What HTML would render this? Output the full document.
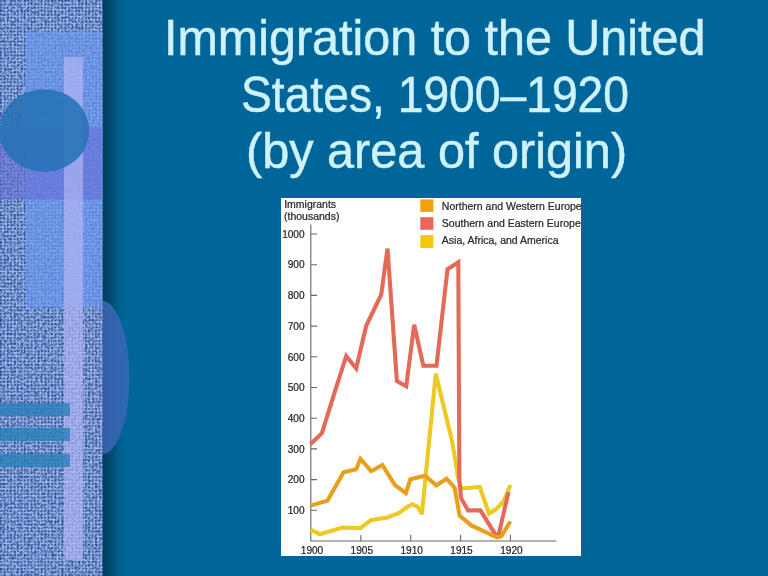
<!DOCTYPE html>
<html lang="en">
<head>
<meta charset="utf-8">
<title>Immigration to the United States, 1900–1920</title>
<style>
html,body{margin:0;padding:0;}
body{width:768px;height:576px;overflow:hidden;background:#00669a;position:relative;font-family:"Liberation Sans",sans-serif;}
#bg{position:absolute;left:0;top:0;width:768px;height:576px;display:block;}
h1{position:absolute;left:102px;top:0;width:666px;margin:0;font-weight:normal;color:#cdf2fc;-webkit-text-stroke:0.5px #cdf2fc;font-size:49.4px;line-height:56.2px;text-align:center;white-space:nowrap;}
h1 span{display:block;position:absolute;white-space:nowrap;transform-origin:0 0;}
#chart{position:absolute;left:281px;top:198px;width:300px;height:358px;background:#fff;overflow:hidden;}
#chart svg{position:absolute;left:0;top:0;}
</style>
</head>
<body>
<svg id="bg" width="768" height="576" viewBox="0 0 768 576">
  <defs>
    <linearGradient id="shadow" x1="0" x2="1" y1="0" y2="0">
      <stop offset="0" stop-color="#003d5d"/>
      <stop offset="0.3" stop-color="#00476b"/>
      <stop offset="0.75" stop-color="#005f8e"/>
      <stop offset="1" stop-color="#00669a"/>
    </linearGradient>
    <linearGradient id="ell" x1="0" x2="1" y1="0" y2="0">
      <stop offset="0" stop-color="#36589c"/>
      <stop offset="1" stop-color="#2f68b4"/>
    </linearGradient>
    <filter id="weave" x="0" y="0" width="100%" height="100%" color-interpolation-filters="sRGB">
      <feTurbulence type="fractalNoise" baseFrequency="0.42" numOctaves="2" seed="4" result="h"/>
      <feColorMatrix in="h" type="matrix" values="1 0 0 0 0  1 0 0 0 0  1 0 0 0 0  0 0 0 0 1" result="h1"/>
      <feComposite in="SourceGraphic" in2="h1" operator="arithmetic" k1="0" k2="0.26" k3="0.74" k4="-0.09" result="n"/>
      <feComponentTransfer in="n" result="c">
        <feFuncR type="table" tableValues="0.204 0.204 0.214 0.253 0.360 0.486 0.603 0.671 0.690 0.690 0.690"/>
        <feFuncG type="table" tableValues="0.298 0.298 0.308 0.346 0.451 0.576 0.690 0.757 0.776 0.776 0.776"/>
        <feFuncB type="table" tableValues="0.596 0.596 0.603 0.632 0.712 0.805 0.892 0.942 0.957 0.957 0.957"/>
      </feComponentTransfer>
      <feGaussianBlur in="c" stdDeviation="0.6"/>
    </filter>
    <pattern id="grid" x="0" y="0" width="3.4" height="3.4" patternUnits="userSpaceOnUse">
      <rect x="0" y="0" width="3.4" height="3.4" fill="#fff"/>
      <rect x="0" y="0" width="2.0" height="2.0" fill="#000"/>
    </pattern>
    <clipPath id="side"><rect x="0" y="0" width="102.6" height="576"/></clipPath>
  </defs>
  <rect x="0" y="0" width="768" height="576" fill="#00669a"/>
  <rect x="102" y="0" width="23" height="576" fill="url(#shadow)"/>
  <ellipse cx="102" cy="377.6" rx="27.4" ry="76.8" fill="url(#ell)"/>
  <g clip-path="url(#side)">
    <rect x="0" y="0" width="104" height="576" fill="url(#grid)" filter="url(#weave)"/>
    <rect x="25.5" y="31.5" width="78" height="276" fill="#6c98f0" fill-opacity="0.68"/>
    <rect x="0" y="127.5" width="104" height="72" fill="#6870d6" fill-opacity="0.62"/>
    <rect x="64" y="57" width="19" height="503" fill="#b4b8f8" fill-opacity="0.66"/>
    <ellipse cx="44.2" cy="130.6" rx="45" ry="41.4" fill="#2672b6" fill-opacity="0.88"/>
    <rect x="0" y="403" width="70" height="13" fill="#2a80ba" fill-opacity="0.8"/>
    <rect x="0" y="428" width="70" height="13" fill="#2a80ba" fill-opacity="0.8"/>
    <rect x="0" y="454" width="70" height="13" fill="#2a80ba" fill-opacity="0.8"/>
  </g>
</svg>
<h1>
<span id="l1" style="left:61.8px;top:10.4px;transform:scaleX(0.9813);">Immigration to the United</span>
<span id="l2" style="left:138.6px;top:66.8px;transform:scaleX(0.9357);">States, 1900–1920</span>
<span id="l3" style="left:144px;top:122.9px;transform:scaleX(0.9846);">(by area of origin)</span>
</h1>
<div id="chart">
<svg width="300" height="358" viewBox="281 198 300 358" font-family="Liberation Sans, sans-serif" font-size="10.5" fill="#262626" stroke="#262626" stroke-width="0.22" paint-order="stroke">
<g id="axes" stroke="#66666c" stroke-width="1.1" fill="none">
<path d="M310.8 224.5V541.0H556.5"/>
<path d="M311.0 510.3h6M311.0 479.6h6M311.0 448.9h6M311.0 418.2h6M311.0 387.5h6M311.0 356.8h6M311.0 326.1h6M311.0 295.4h6M311.0 264.7h6M311.0 234.0h6M360.9 541.0v-6M410.7 541.0v-6M460.6 541.0v-6M510.4 541.0v-6"/>
</g>
<g id="ylabels" text-anchor="end" font-size="10.1">
<text x="304.6" y="514.0">100</text>
<text x="304.6" y="483.3">200</text>
<text x="304.6" y="452.6">300</text>
<text x="304.6" y="421.9">400</text>
<text x="304.6" y="391.2">500</text>
<text x="304.6" y="360.5">600</text>
<text x="304.6" y="329.8">700</text>
<text x="304.6" y="299.1">800</text>
<text x="304.6" y="268.4">900</text>
<text x="304.6" y="237.7">1000</text>
</g>
<g id="xlabels" text-anchor="middle" font-size="10.1">
<text x="312.0" y="554.2">1900</text>
<text x="361.8" y="554.2">1905</text>
<text x="411.7" y="554.2">1910</text>
<text x="461.5" y="554.2">1915</text>
<text x="511.4" y="554.2">1920</text>
</g>
<text x="284.2" y="208">Immigrants</text>
<text x="284" y="219.5">(thousands)</text>
<g id="legend">
<rect x="420.3" y="199.4" width="13.1" height="12.5" fill="#f4a10b" stroke="none"/>
<rect x="420.3" y="217.2" width="13.1" height="12.6" fill="#ea6656" stroke="none"/>
<rect x="420.3" y="235.1" width="13.1" height="12.9" fill="#f8c70c" stroke="none"/>
<text x="441.8" y="209.9">Northern and Western Europe</text>
<text x="441.8" y="227.1">Southern and Eastern Europe</text>
<text x="441.8" y="244.3">Asia, Africa, and America</text>
</g>
<g id="series" fill="none" stroke-width="4.1" stroke-linejoin="miter" stroke-miterlimit="2.3" stroke-linecap="butt">
<path id="line-aaa" d="M310.4 529.6 L319.8 534.2 L342.7 527.5 L360.4 528.1 L370.8 520.2 L387.5 517.5 L399.0 512.9 L408.0 506.5 L412.5 504.2 L417.7 506.7 L421.9 514.0 L435.8 373.8 L451.8 440.0 L455.6 462.0 L458.0 477.5 L461.4 488.6 L479.8 487.0 L489.0 513.6 L496.5 508.8 L503.6 501.5 L510.4 485.0" stroke="#ecc924"/>
<path id="line-se" d="M310.4 444.2 L321.9 433.1 L333.3 396.7 L346.2 356.0 L356.2 368.5 L366.2 325.8 L381.2 294.6 L387.5 248.6 L396.9 381.0 L406.2 386.2 L414.2 324.8 L423.3 365.8 L436.5 365.8 L447.5 269.2 L458.3 262.3 L459.4 480.0 L461.0 498.0 L468.0 510.4 L480.4 510.4 L497.8 538.4 L508.5 492.1" stroke="#e46a58"/>
<path id="line-nw" d="M310.4 505.6 L327.4 500.8 L343.6 472.3 L356.2 469.2 L360.4 458.8 L371.2 471.2 L382.3 465.0 L394.8 484.8 L405.8 493.1 L410.4 479.2 L425.0 475.8 L436.4 485.4 L446.6 478.6 L454.6 487.6 L459.6 515.6 L471.4 525.4 L496.4 537.2 L501.2 536.4 L510.4 521.5" stroke="#e8a01c"/>
</g>
</svg>
</div>
</body>
</html>
